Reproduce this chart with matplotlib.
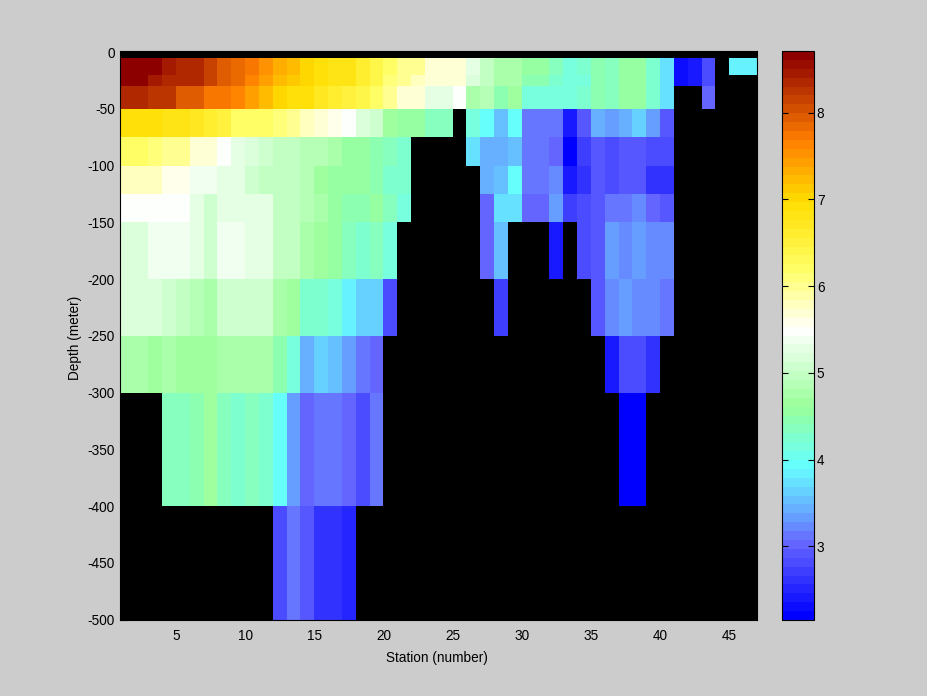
import numpy as np
import matplotlib
matplotlib.use('Agg')
import matplotlib.pyplot as plt
from matplotlib.colors import LinearSegmentedColormap

nan = np.nan

stations = np.arange(1, 48)
depths = [-5, -20, -30, -50, -75, -100, -125, -150, -200, -250, -300, -400, -500]

# one row per depth layer, one value per station column (46 columns)
row_5 = [8.65, 8.65, 8.65, 8.5, 8.4, 8.3, 8.1, 7.95, 7.85, 7.7, 7.5, 7.3, 7.2, 7.05, 6.95, 6.8, 6.8, 6.65, 6.45, 6.15, 6.0, 6.0, 5.7,
         5.7, 5.7, 5.3, 5.0, 4.8, 4.8, 4.55, 4.55, 4.35, 4.15, 4.25, 4.45, 4.35, 4.6, 4.6, 4.3, 3.7, 2.3, 2.45, 2.8, nan, 3.85, 3.85]
row_20 = [8.65, 8.65, 8.5, 8.4, 8.3, 8.3, 8.1, 7.95, 7.85, 7.65, 7.4, 7.25, 7.15, 7.05, 6.95, 6.8, 6.8, 6.6, 6.4, 6.1, 6.0, 5.8, 5.65,
          5.7, 5.7, 5.2, 5.0, 4.8, 4.8, 4.5, 4.5, 4.3, 4.15, 4.15, 4.45, 4.35, 4.6, 4.6, 4.3, 3.7, 2.3, 2.45, 2.8, nan, nan, nan]
row_30 = [8.4, 8.4, 8.25, 8.2, 7.95, 7.95, 7.7, 7.7, 7.6, 7.45, 7.25, 7.05, 6.95, 6.9, 6.75, 6.6, 6.5, 6.45, 6.25, 6.0, 5.7, 5.65, 5.3,
          5.3, 5.45, 4.75, 4.85, 4.5, 4.7, 4.15, 4.15, 4.15, 4.15, 4.2, 4.5, 4.4, 4.55, 4.55, 4.3, 3.7, nan, nan, 3.0, nan, nan, nan]
row_50 = [6.95, 6.95, 6.95, 6.85, 6.85, 6.7, 6.6, 6.55, 6.25, 6.2, 6.2, 6.05, 5.95, 5.8, 5.65, 5.6, 5.45, 5.2, 5.05, 4.7, 4.6, 4.6, 4.4,
          4.4, nan, 4.1, 3.95, 3.55, 3.95, 3.1, 3.1, 3.1, 2.45, 2.95, 3.4, 3.3, 3.4, 3.65, 3.3, 2.9, nan, nan, nan, nan, nan, nan]
row_75 = [6.15, 6.15, 6.05, 5.95, 5.95, 5.65, 5.65, 5.45, 5.3, 5.2, 5.1, 5.0, 5.0, 4.85, 4.85, 4.75, 4.6, 4.55, 4.45, 4.35, 4.3, nan, nan,
          nan, nan, 3.7, 3.4, 3.4, 3.55, 3.1, 3.1, 3.0, 2.25, 2.7, 2.95, 2.8, 2.88, 2.95, 2.78, 2.78, nan, nan, nan, nan, nan, nan]
row_100 = [5.8, 5.8, 5.75, 5.6, 5.6, 5.35, 5.4, 5.3, 5.25, 5.1, 5.0, 5.0, 5.0, 4.85, 4.7, 4.6, 4.55, 4.55, 4.45, 4.3, 4.3, nan, nan,
           nan, nan, nan, 3.4, 3.55, 3.9, 3.1, 3.1, 3.2, 2.45, 2.65, 2.95, 2.78, 2.88, 2.95, 2.65, 2.65, nan, nan, nan, nan, nan, nan]
row_125 = [5.45, 5.45, 5.45, 5.45, 5.45, 5.3, 5.1, 5.3, 5.3, 5.25, 5.25, 5.0, 5.0, 4.9, 4.8, 4.6, 4.45, 4.45, 4.55, 4.35, 4.15, nan, nan,
           nan, nan, nan, 2.98, 3.7, 3.7, 3.0, 3.0, 3.3, 2.75, 2.85, 2.93, 3.1, 3.1, 3.2, 3.0, 2.88, nan, nan, nan, nan, nan, nan]
row_150 = [5.2, 5.2, 5.35, 5.35, 5.35, 5.25, 5.05, 5.4, 5.4, 5.3, 5.3, 5.0, 5.0, 4.8, 4.65, 4.6, 4.35, 4.3, 4.35, 4.15, nan, nan, nan,
           nan, nan, nan, 2.98, 3.55, nan, nan, nan, 2.45, nan, 2.85, 2.95, 3.3, 3.2, 3.3, 3.2, 3.2, nan, nan, nan, nan, nan, nan]
row_200 = [5.2, 5.2, 5.2, 5.1, 5.0, 4.9, 4.8, 5.1, 5.1, 5.1, 5.1, 4.75, 4.7, 4.2, 4.2, 4.15, 3.85, 3.65, 3.65, 2.8, nan, nan, nan,
           nan, nan, nan, nan, 2.75, nan, nan, nan, nan, nan, nan, 2.88, 3.2, 3.35, 3.2, 3.2, 3.1, nan, nan, nan, nan, nan, nan]
row_250 = [4.8, 4.8, 4.7, 4.75, 4.7, 4.7, 4.7, 4.8, 4.8, 4.8, 4.8, 4.45, 4.15, 3.45, 3.65, 3.55, 3.35, 3.15, 3.0, nan, nan, nan, nan,
           nan, nan, nan, nan, nan, nan, nan, nan, nan, nan, nan, nan, 2.45, 2.85, 2.85, 2.6, nan, nan, nan, nan, nan, nan, nan]
row_300 = [nan, nan, nan, 4.35, 4.35, 4.45, 4.65, 4.4, 4.3, 4.35, 4.25, 3.9, 3.35, 3.05, 3.15, 3.15, 3.0, 2.8, 3.1, nan, nan, nan, nan,
           nan, nan, nan, nan, nan, nan, nan, nan, nan, nan, nan, nan, nan, 2.2, 2.2, nan, nan, nan, nan, nan, nan, nan, nan]
row_400 = [nan, nan, nan, nan, nan, nan, nan, nan, nan, nan, nan, 2.8, 3.1, 2.9, 2.65, 2.65, 2.5, nan, nan, nan, nan, nan, nan,
           nan, nan, nan, nan, nan, nan, nan, nan, nan, nan, nan, nan, nan, nan, nan, nan, nan, nan, nan, nan, nan, nan, nan]

oxygen = np.array([row_5, row_20, row_30, row_50, row_75, row_100, row_125,
                   row_150, row_200, row_250, row_300, row_400])

vmin, vmax = 2.15, 8.71

# colour nodes
node_values = [2.15, 3.0, 3.35, 3.9, 4.6, 5.5, 6.2, 7.0, 7.7, 8.71]
node_colors = ['#0000ff', '#6666ff', '#66a8ff', '#66ffff', '#99ff99',
               '#ffffff', '#ffff66', '#ffdd00', '#ff8000', '#8c0000']
node_pos = [(v - vmin) / (vmax - vmin) for v in node_values]
cmap = LinearSegmentedColormap.from_list('ocean_jet', list(zip(node_pos, node_colors)), N=64)

plt.rcParams['font.family'] = ['Liberation Sans', 'DejaVu Sans']
plt.rcParams['font.size'] = 9.8
plt.rcParams['axes.unicode_minus'] = False

W, H = 928, 696
fig = plt.figure(figsize=(W / 100, H / 100), dpi=100, facecolor='#cccccc')
ax = fig.add_axes([120.5 / W, (H - 619.5) / H, 636.5 / W, 568.5 / H], facecolor='black')

mesh = ax.pcolormesh(stations, depths, oxygen, cmap=cmap, vmin=vmin, vmax=vmax, shading='flat')
ax.set_xlim(1, 47)
ax.set_ylim(-500, 1)
ax.set_xticks(np.arange(5, 50, 5))
ax.set_yticks(np.arange(-500, 50, 50))
ax.set_axisbelow(True)
ax.tick_params(axis='x', direction='in', length=5, width=0.8, pad=7)
ax.tick_params(axis='y', direction='in', length=5, width=0.8, pad=4)
ax.set_xlabel('Station (number)')
ax.set_ylabel('Depth (meter)')
ax.xaxis.set_label_coords((437 - 120.5) / 636.5, -(651 - 619.5) / 568.5, transform=ax.transAxes)
ax.yaxis.set_label_coords((82 - 120.5) / 636.5, (619.5 - 337.5) / 568.5, transform=ax.transAxes)

cax = fig.add_axes([782 / W, (H - 620) / H, 32 / W, 569 / H])
cb = fig.colorbar(mesh, cax=cax)
cb.set_ticks([3, 4, 5, 6, 7, 8])
cb.ax.tick_params(direction='in', length=4, width=0.8, left=True, right=True, pad=2)
cb.outline.set_linewidth(0.8)

fig.savefig('out.png', dpi=100, facecolor=fig.get_facecolor())
